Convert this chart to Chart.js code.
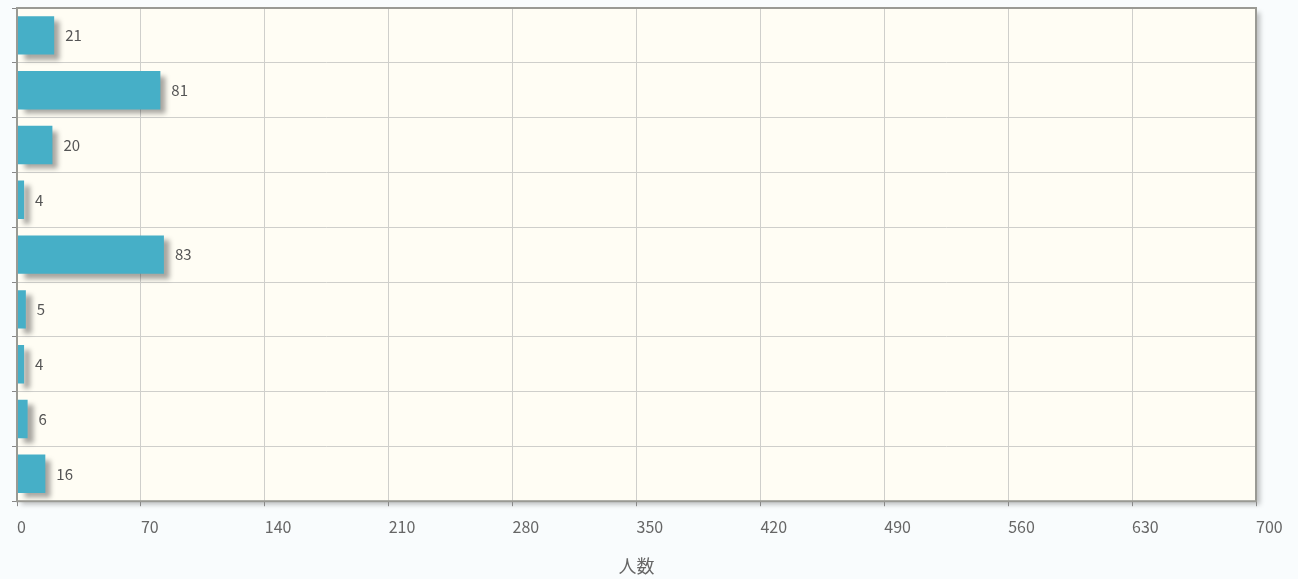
<!DOCTYPE html>
<html>
<head>
<meta charset="utf-8">
<script src="https://cdn.jsdelivr.net/npm/chart.js@4/dist/chart.umd.min.js"></script>
<style>
  html, body { margin: 0; padding: 0; background: #f9fcfd; }
  #wrap { width: 1298px; height: 579px; }
</style>
</head>
<body>
<div id="wrap"><canvas id="chart"></canvas></div>
<script>
// Chart data
const categories = ['項目1', '項目2', '項目3', '項目4', '項目5', '項目6', '項目7', '項目8', '項目9'];
const counts = [21, 81, 20, 4, 83, 5, 4, 6, 16];
const xMax = 700;
const xStep = 70;
const xTitle = '人数';

const fontFamily = '"Noto Sans CJK JP", "Noto Sans", sans-serif';

// Plot background + shadow, border, bar shadows and value labels
const decorPlugin = {
  id: 'decor',
  beforeDraw(chart) {
    const { ctx, chartArea: a } = chart;
    ctx.save();
    ctx.shadowColor = 'rgba(0, 0, 0, 0.25)';
    ctx.shadowBlur = 5;
    ctx.shadowOffsetX = 4;
    ctx.shadowOffsetY = 4;
    ctx.fillStyle = '#fffdf4';
    ctx.fillRect(a.left, a.top, a.right - a.left, a.bottom - a.top);
    ctx.restore();
  },
  beforeDatasetDraw(chart) {
    const ctx = chart.ctx;
    ctx.save();
    ctx.shadowColor = 'rgba(0, 0, 0, 0.35)';
    ctx.shadowBlur = 5;
    ctx.shadowOffsetX = 6;
    ctx.shadowOffsetY = 5;
  },
  afterDatasetDraw(chart) {
    chart.ctx.restore();
  },
  afterDatasetsDraw(chart) {
    const { ctx, chartArea: a } = chart;
    ctx.save();
    ctx.strokeStyle = '#9a9a94';
    ctx.lineWidth = 2;
    ctx.strokeRect(a.left, a.top, a.right - a.left, a.bottom - a.top);

    // value labels
    ctx.fillStyle = '#555';
    ctx.font = '15px ' + fontFamily;
    ctx.textAlign = 'left';
    ctx.textBaseline = 'middle';
    chart.getDatasetMeta(0).data.forEach((bar, i) => {
      ctx.fillText(String(counts[i]), bar.x + 11, bar.y);
    });
    ctx.restore();
  }
};

const ctx = document.getElementById('chart').getContext('2d');
new Chart(ctx, {
  type: 'bar',
  data: {
    labels: categories,
    datasets: [
      {
        label: xTitle,
        data: counts,
        backgroundColor: '#46afc7',
        borderWidth: 0,
        barPercentage: 0.7,
        categoryPercentage: 1.0
      }
    ]
  },
  options: {
    indexAxis: 'y',
    responsive: true,
    maintainAspectRatio: false,
    animation: false,
    layout: {
      padding: { left: 12, right: 42, top: 8, bottom: 2 }
    },
    plugins: {
      legend: { display: false },
      tooltip: { enabled: false }
    },
    scales: {
      x: {
        min: 0,
        max: xMax,
        ticks: {
          stepSize: xStep,
          align: 'start',
          color: '#666',
          padding: 11,
          font: { family: fontFamily, size: 16 }
        },
        grid: {
          color: '#cfcfcb',
          lineWidth: 1,
          tickLength: 5,
          tickColor: '#888'
        },
        border: { display: false },
        title: {
          display: true,
          text: xTitle,
          color: '#666',
          padding: { top: 8, bottom: 0 },
          font: { family: fontFamily, size: 18 }
        }
      },
      y: {
        ticks: { display: false },
        grid: {
          color: '#cfcfcb',
          lineWidth: 1,
          tickLength: 5,
          tickColor: '#888'
        },
        border: { display: false }
      }
    }
  },
  plugins: [decorPlugin]
});
</script>
</body>
</html>
